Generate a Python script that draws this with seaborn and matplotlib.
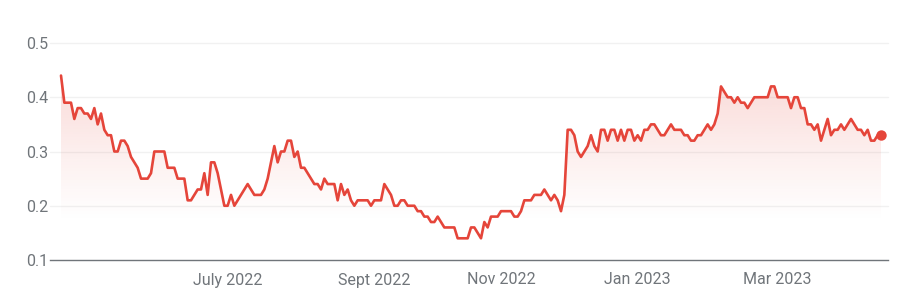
import numpy as np
import pandas as pd
import matplotlib
matplotlib.use("Agg")
import matplotlib.pyplot as plt
import seaborn as sns
from matplotlib.colors import to_rgb

# Daily closing values
values = [
    # Apr - May 2022
    0.44, 0.39, 0.39, 0.39, 0.36, 0.38, 0.38, 0.37, 0.37, 0.36,
    0.38, 0.35, 0.37, 0.34, 0.33, 0.33, 0.30, 0.30, 0.32, 0.32,
    0.31, 0.29, 0.28, 0.27, 0.25, 0.25, 0.25, 0.26, 0.30, 0.30,
    0.30, 0.30, 0.27, 0.27, 0.27,
    # Jun - Jul 2022
    0.25, 0.25, 0.25, 0.21, 0.21, 0.22, 0.23, 0.23, 0.26, 0.22,
    0.28, 0.28, 0.26, 0.23, 0.20, 0.20, 0.22, 0.20, 0.21, 0.22,
    0.23, 0.24, 0.23, 0.22, 0.22, 0.22, 0.23, 0.25, 0.28, 0.31,
    0.28, 0.30, 0.30, 0.32, 0.32, 0.29,
    # Aug - Sep 2022
    0.30, 0.27, 0.27, 0.26, 0.25, 0.24, 0.24, 0.23, 0.25, 0.24,
    0.24, 0.24, 0.21, 0.24, 0.22, 0.23, 0.21, 0.20, 0.21, 0.21,
    0.21, 0.21, 0.20, 0.21, 0.21, 0.21, 0.24, 0.23, 0.22, 0.20,
    0.20, 0.21, 0.21, 0.20, 0.20, 0.20,
    # Oct - Nov 2022
    0.19, 0.19, 0.18, 0.18, 0.17, 0.17, 0.18, 0.17, 0.16, 0.16,
    0.16, 0.16, 0.14, 0.14, 0.14, 0.14, 0.16, 0.16, 0.15, 0.14,
    0.17, 0.16, 0.18, 0.18, 0.18, 0.19, 0.19, 0.19, 0.19, 0.18,
    0.18, 0.19, 0.21, 0.21, 0.21, 0.22,
    # Nov 2022 - Jan 2023
    0.22, 0.22, 0.23, 0.22, 0.21, 0.22, 0.21, 0.19, 0.22, 0.34,
    0.34, 0.33, 0.30, 0.29, 0.30, 0.31, 0.33, 0.31, 0.30, 0.34,
    0.34, 0.32, 0.34, 0.34, 0.32, 0.34, 0.32, 0.34, 0.34, 0.32,
    0.33, 0.32, 0.34, 0.34, 0.35, 0.35,
    # Jan - Mar 2023
    0.34, 0.33, 0.33, 0.34, 0.35, 0.34, 0.34, 0.34, 0.33, 0.33,
    0.32, 0.32, 0.33, 0.33, 0.34, 0.35, 0.34, 0.35, 0.37, 0.42,
    0.41, 0.40, 0.40, 0.39, 0.40, 0.39, 0.39, 0.38, 0.39, 0.40,
    0.40, 0.40, 0.40, 0.40, 0.42, 0.42,
    # Mar - Apr 2023
    0.40, 0.40, 0.40, 0.40, 0.38, 0.40, 0.40, 0.38, 0.38, 0.35,
    0.35, 0.34, 0.35, 0.32, 0.34, 0.36, 0.33, 0.34, 0.34, 0.35,
    0.34, 0.35, 0.36, 0.35, 0.34, 0.34, 0.33, 0.34, 0.32, 0.32,
    0.33, 0.33,
]
tick_labels = ["July 2022", "Sept 2022", "Nov 2022", "Jan 2023", "Mar 2023"]
tick_index = [50, 94, 132, 173, 215]
y_ticks = [0.1, 0.2, 0.3, 0.4, 0.5]

df = pd.DataFrame({"day": np.arange(len(values)), "price": values})

sns.set_theme(style="white")
plt.rcParams["font.family"] = ["Roboto", "DejaVu Sans"]

RED = "#e5453a"
GRAY = "#70757a"

W, H = 904, 306
fig = plt.figure(figsize=(W / 100, H / 100), dpi=100)
ax = fig.add_axes([50 / W, 46 / H, 838 / W, 217 / H])

n = len(values)
step = 820 / (n - 1)
x0 = -11 / step
x1 = (n - 1) + 7 / step
ax.set_xlim(x0, x1)
ax.set_ylim(0.1, 0.5)

# gradient fill under the line
poly = ax.fill_between(df["day"], df["price"], 0.1, color="none", lw=0)
ny = 256
ys = np.linspace(0.1, 0.5, ny)
alpha = np.clip((ys - 0.17) / (0.44 - 0.17), 0, 1) ** 1.1 * 0.2
rgba = np.zeros((ny, 1, 4))
rgba[..., :3] = to_rgb(RED)
rgba[:, 0, 3] = alpha
im = ax.imshow(rgba, extent=[0, n - 1, 0.1, 0.5], origin="lower",
               aspect="auto", zorder=1, interpolation="bilinear")
im.set_clip_path(poly.get_paths()[0], transform=ax.transData)

sns.lineplot(data=df, x="day", y="price", color=RED, linewidth=1.9, ax=ax, zorder=3)
ax.plot(df["day"].iloc[-1], df["price"].iloc[-1], "o", color=RED, ms=7.5, zorder=4,
        markeredgewidth=0)

ax.set_yticks(y_ticks)
ax.set_yticklabels([f"{v:.1f}" for v in y_ticks])
ax.set_xticks(tick_index)
ax.set_xticklabels(tick_labels)
ax.set_xlabel("")
ax.set_ylabel("")

for yv in y_ticks[1:]:
    ax.axhline(yv, color="#f1f1f1", lw=1, zorder=0, clip_on=False)

for s in ["top", "right", "left"]:
    ax.spines[s].set_visible(False)
ax.spines["bottom"].set_color(GRAY)
ax.spines["bottom"].set_linewidth(1)

ax.tick_params(axis="y", length=0, pad=1, labelsize=11.5, labelcolor=GRAY)
ax.tick_params(axis="x", length=6, width=1, color=GRAY, pad=3,
               labelsize=11.5, labelcolor=GRAY, direction="out")
ax.grid(False)

fig.savefig("out.png", dpi=100)
